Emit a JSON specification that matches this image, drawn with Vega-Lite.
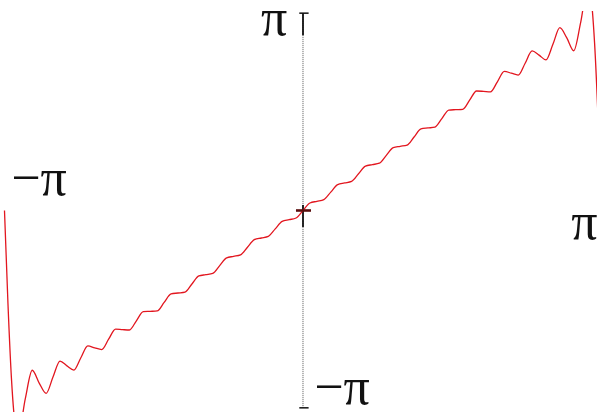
{
  "$schema": "https://vega.github.io/schema/vega-lite/v6.json",
  "width": 597,
  "height": 401,
  "autosize": {"type": "none"},
  "padding": {"top": 11, "left": 0, "right": 0, "bottom": 0},
  "background": "white",
  "config": {"view": {"stroke": null}},
  "datasets": {
    "partialSum": [
      {"x": -3.14159, "y": 0},
      {"x": -3.10506, "y": -1.4815},
      {"x": -3.06853, "y": -2.6685},
      {"x": -3.032, "y": -3.37},
      {"x": -2.99547, "y": -3.5577},
      {"x": -2.92241, "y": -2.995},
      {"x": -2.84935, "y": -2.543},
      {"x": -2.77628, "y": -2.747},
      {"x": -2.70322, "y": -2.911},
      {"x": -2.63016, "y": -2.646},
      {"x": -2.5571, "y": -2.3975},
      {"x": -2.48404, "y": -2.474},
      {"x": -2.41098, "y": -2.54},
      {"x": -2.33792, "y": -2.3446},
      {"x": -2.26486, "y": -2.1558},
      {"x": -2.1918, "y": -2.187},
      {"x": -2.11873, "y": -2.2134},
      {"x": -2.04567, "y": -2.0493},
      {"x": -1.97261, "y": -1.8883},
      {"x": -1.89955, "y": -1.8967},
      {"x": -1.82649, "y": -1.9026},
      {"x": -1.75343, "y": -1.7556},
      {"x": -1.68037, "y": -1.6107},
      {"x": -1.60731, "y": -1.6055},
      {"x": -1.53424, "y": -1.5988},
      {"x": -1.46118, "y": -1.4627},
      {"x": -1.38812, "y": -1.3276},
      {"x": -1.31506, "y": -1.3138},
      {"x": -1.242, "y": -1.2992},
      {"x": -1.16894, "y": -1.17},
      {"x": -1.09588, "y": -1.0414},
      {"x": -1.02282, "y": -1.022},
      {"x": -0.94975, "y": -1.0021},
      {"x": -0.87669, "y": -0.8774},
      {"x": -0.80363, "y": -0.753},
      {"x": -0.73057, "y": -0.7301},
      {"x": -0.65751, "y": -0.7067},
      {"x": -0.58445, "y": -0.5848},
      {"x": -0.51139, "y": -0.4633},
      {"x": -0.43833, "y": -0.438},
      {"x": -0.36526, "y": -0.4126},
      {"x": -0.2922, "y": -0.2924},
      {"x": -0.21914, "y": -0.1724},
      {"x": -0.14608, "y": -0.1461},
      {"x": -0.07302, "y": -0.1196},
      {"x": 0, "y": 0},
      {"x": 0.07302, "y": 0.1196},
      {"x": 0.14608, "y": 0.1461},
      {"x": 0.21914, "y": 0.1724},
      {"x": 0.2922, "y": 0.2924},
      {"x": 0.36526, "y": 0.4126},
      {"x": 0.43833, "y": 0.438},
      {"x": 0.51139, "y": 0.4633},
      {"x": 0.58445, "y": 0.5848},
      {"x": 0.65751, "y": 0.7067},
      {"x": 0.73057, "y": 0.7301},
      {"x": 0.80363, "y": 0.753},
      {"x": 0.87669, "y": 0.8774},
      {"x": 0.94975, "y": 1.0021},
      {"x": 1.02282, "y": 1.022},
      {"x": 1.09588, "y": 1.0414},
      {"x": 1.16894, "y": 1.17},
      {"x": 1.242, "y": 1.2992},
      {"x": 1.31506, "y": 1.3138},
      {"x": 1.38812, "y": 1.3276},
      {"x": 1.46118, "y": 1.4627},
      {"x": 1.53424, "y": 1.5988},
      {"x": 1.60731, "y": 1.6055},
      {"x": 1.68037, "y": 1.6107},
      {"x": 1.75343, "y": 1.7556},
      {"x": 1.82649, "y": 1.9026},
      {"x": 1.89955, "y": 1.8967},
      {"x": 1.97261, "y": 1.8883},
      {"x": 2.04567, "y": 2.0493},
      {"x": 2.11873, "y": 2.2134},
      {"x": 2.1918, "y": 2.187},
      {"x": 2.26486, "y": 2.1558},
      {"x": 2.33792, "y": 2.3446},
      {"x": 2.41098, "y": 2.54},
      {"x": 2.48404, "y": 2.474},
      {"x": 2.5571, "y": 2.3975},
      {"x": 2.63016, "y": 2.646},
      {"x": 2.70322, "y": 2.911},
      {"x": 2.77628, "y": 2.747},
      {"x": 2.84935, "y": 2.543},
      {"x": 2.92241, "y": 2.995},
      {"x": 2.99547, "y": 3.5577},
      {"x": 3.032, "y": 3.37},
      {"x": 3.06853, "y": 2.6685},
      {"x": 3.10506, "y": 1.4815},
      {"x": 3.14159, "y": 0}
    ]
  },
  "encoding": {
    "x": {"field": "x", "type": "quantitative", "axis": null,
          "scale": {"domain": [-3.1888, 3.0941], "nice": false, "zero": false}},
    "y": {"field": "y", "type": "quantitative", "axis": null,
          "scale": {"domain": [-3.208, 3.176], "nice": false, "zero": false}}
  },
  "layer": [
    {
      "data": {"values": [{"x": 0, "y": 3.14159, "y2": -3.14159}]},
      "mark": {"type": "rule", "color": "#555555", "strokeWidth": 1, "strokeDash": [1, 1]},
      "encoding": {"y2": {"field": "y2"}}
    },
    {
      "data": {"values": [{"x": 0, "y": 3.14159, "y2": 2.79}, {"x": 0, "y": 0.088, "y2": -0.263}]},
      "mark": {"type": "rule", "color": "#111111", "strokeWidth": 1.8},
      "encoding": {"y2": {"field": "y2"}}
    },
    {
      "data": {"values": [{"x": -0.039, "x2": 0.059, "y": 3.14159}, {"x": -0.039, "x2": 0.059, "y": -3.14159}]},
      "mark": {"type": "rule", "color": "#111111", "strokeWidth": 1.5},
      "encoding": {"x2": {"field": "x2"}}
    },
    {
      "data": {"name": "partialSum"},
      "mark": {"type": "line", "color": "#e2161f", "strokeWidth": 1.3, "interpolate": "monotone", "clip": true},
      "encoding": {"order": {"field": "x", "type": "quantitative"}}
    },
    {
      "data": {"values": [{"x": -0.074, "x2": 0.084, "y": 0}]},
      "mark": {"type": "rule", "color": "#5a0d0d", "strokeWidth": 2.6},
      "encoding": {"x2": {"field": "x2"}}
    },
    {
      "data": {"values": [
        {"label": "π", "x": -0.305, "y": 2.794},
        {"label": "−π", "x": 0.41, "y": -3.081},
        {"label": "−π", "x": -2.778, "y": 0.247},
        {"label": "π", "x": 2.96, "y": -0.454}
      ]},
      "mark": {"type": "text", "font": "Liberation Serif", "fontSize": 52, "align": "center", "baseline": "alphabetic", "color": "#111111"},
      "encoding": {
        "text": {"field": "label"},
        "fontWeight": {"condition": {"test": "datum.y > 2", "value": "bold"}, "value": "normal"}
      }
    }
  ]
}
